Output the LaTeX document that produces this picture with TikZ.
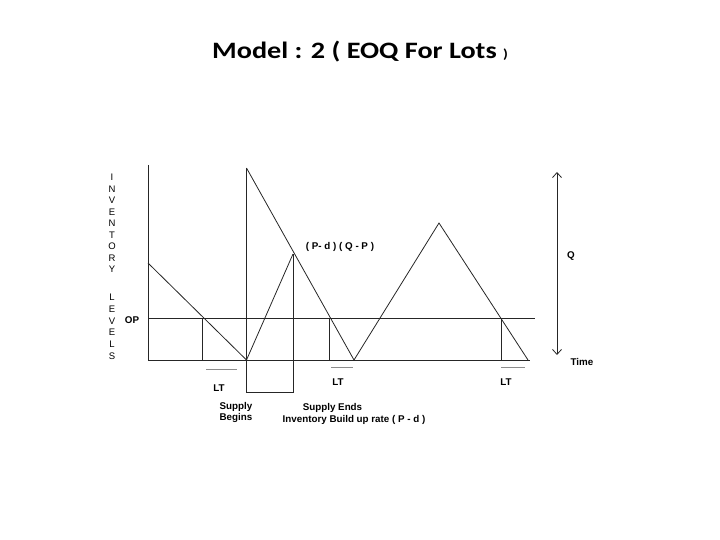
\documentclass[tikz,border=0pt]{standalone}
\usepackage{fontspec}
\setmainfont{Liberation Sans}
\newfontfamily\titlefont{Carlito}
\usetikzlibrary{arrows.meta}
\begin{document}
\begin{tikzpicture}[x=1pt,y=-1pt,
  ln/.style={line width=0.8pt,black!85},
  gr/.style={line width=0.9pt,black!45},
  lbl/.style={font=\fontsize{9.8}{10}\selectfont\bfseries,inner sep=0pt},
  vl/.style={font=\fontsize{9.5}{9.5}\selectfont,inner sep=0pt}]
\useasboundingbox (0,0) rectangle (720,540);
% title
\node[inner sep=0pt,anchor=base west,xscale=1.2] (title) at (212,59) {\titlefont\bfseries\fontsize{23.5}{26}\selectfont Model : 2 ( EOQ For Lots {\fontsize{13}{14}\selectfont )}};
% coordinates
\coordinate (ytop) at (148,165);
\coordinate (o) at (148,360);
\coordinate (bend) at (530,360);
\coordinate (opl) at (148,318.5);
\coordinate (opr) at (535,318.5);
\coordinate (s0) at (148,263);
\coordinate (m1) at (246.5,360);
\coordinate (t1) at (246.5,168);
\coordinate (p1) at (293,254);
\coordinate (m2) at (354,360);
\coordinate (p2) at (439,223);
\coordinate (m3) at (528,360);
% axes
\draw[ln] (ytop) -- (o) -- (bend);
\draw[ln] (opl) -- (opr);
% inventory lines
\draw[ln] (s0) -- (m1);
\draw[ln] (t1) -- (m2);
\draw[ln] (m1) -- (p1);
\draw[ln] (m2) -- (p2) -- (m3);
% verticals at OP crossings
\draw[ln] (202,318.5) -- (202,360);
\draw[ln] (329,318.5) -- (329,360);
\draw[ln] (501,318.5) -- (501,360);
% supply bracket
\draw[ln] (t1) -- (246.5,392) -- (293,392) -- (p1);
% LT marks
\draw[gr] (206,369) -- (237,369);
\draw[gr] (331,367) -- (353,367);
\draw[gr] (501,367) -- (525,367);
% Q arrow
\draw[ln,{Straight Barb[length=5pt,width=9pt]}-{Straight Barb[length=5pt,width=9pt]}] (557,172) -- (557,355);
% labels
\node[lbl] (q) at (571,256) {Q};
\node[lbl] (time) at (582,362) {Time};
\node[lbl] (op) at (132,320) {OP};
\node[lbl] (lt1) at (219,388) {LT};
\node[lbl] (lt2) at (338,382) {LT};
\node[lbl] (lt3) at (506,382) {LT};
\node[lbl,align=center] (sb) at (236,412) {Supply\\[1pt]Begins};
\node[lbl] (se) at (332.5,408) {Supply Ends};
\node[lbl] (ib) at (354,420) {Inventory Build up rate ( P - d )};
\node[lbl] (pq) at (340,247) {( P- d ) ( Q - P )};
% vertical text
\foreach \c [count=\i] in {I,N,V,E,N,T,O,R,Y}
  \node[vl] at (112,{166+11.5*\i}) {\c};
\foreach \c [count=\i] in {L,E,V,E,L,S}
  \node[vl] at (112,{285.5+11.8*\i}) {\c};
\end{tikzpicture}
\end{document}
